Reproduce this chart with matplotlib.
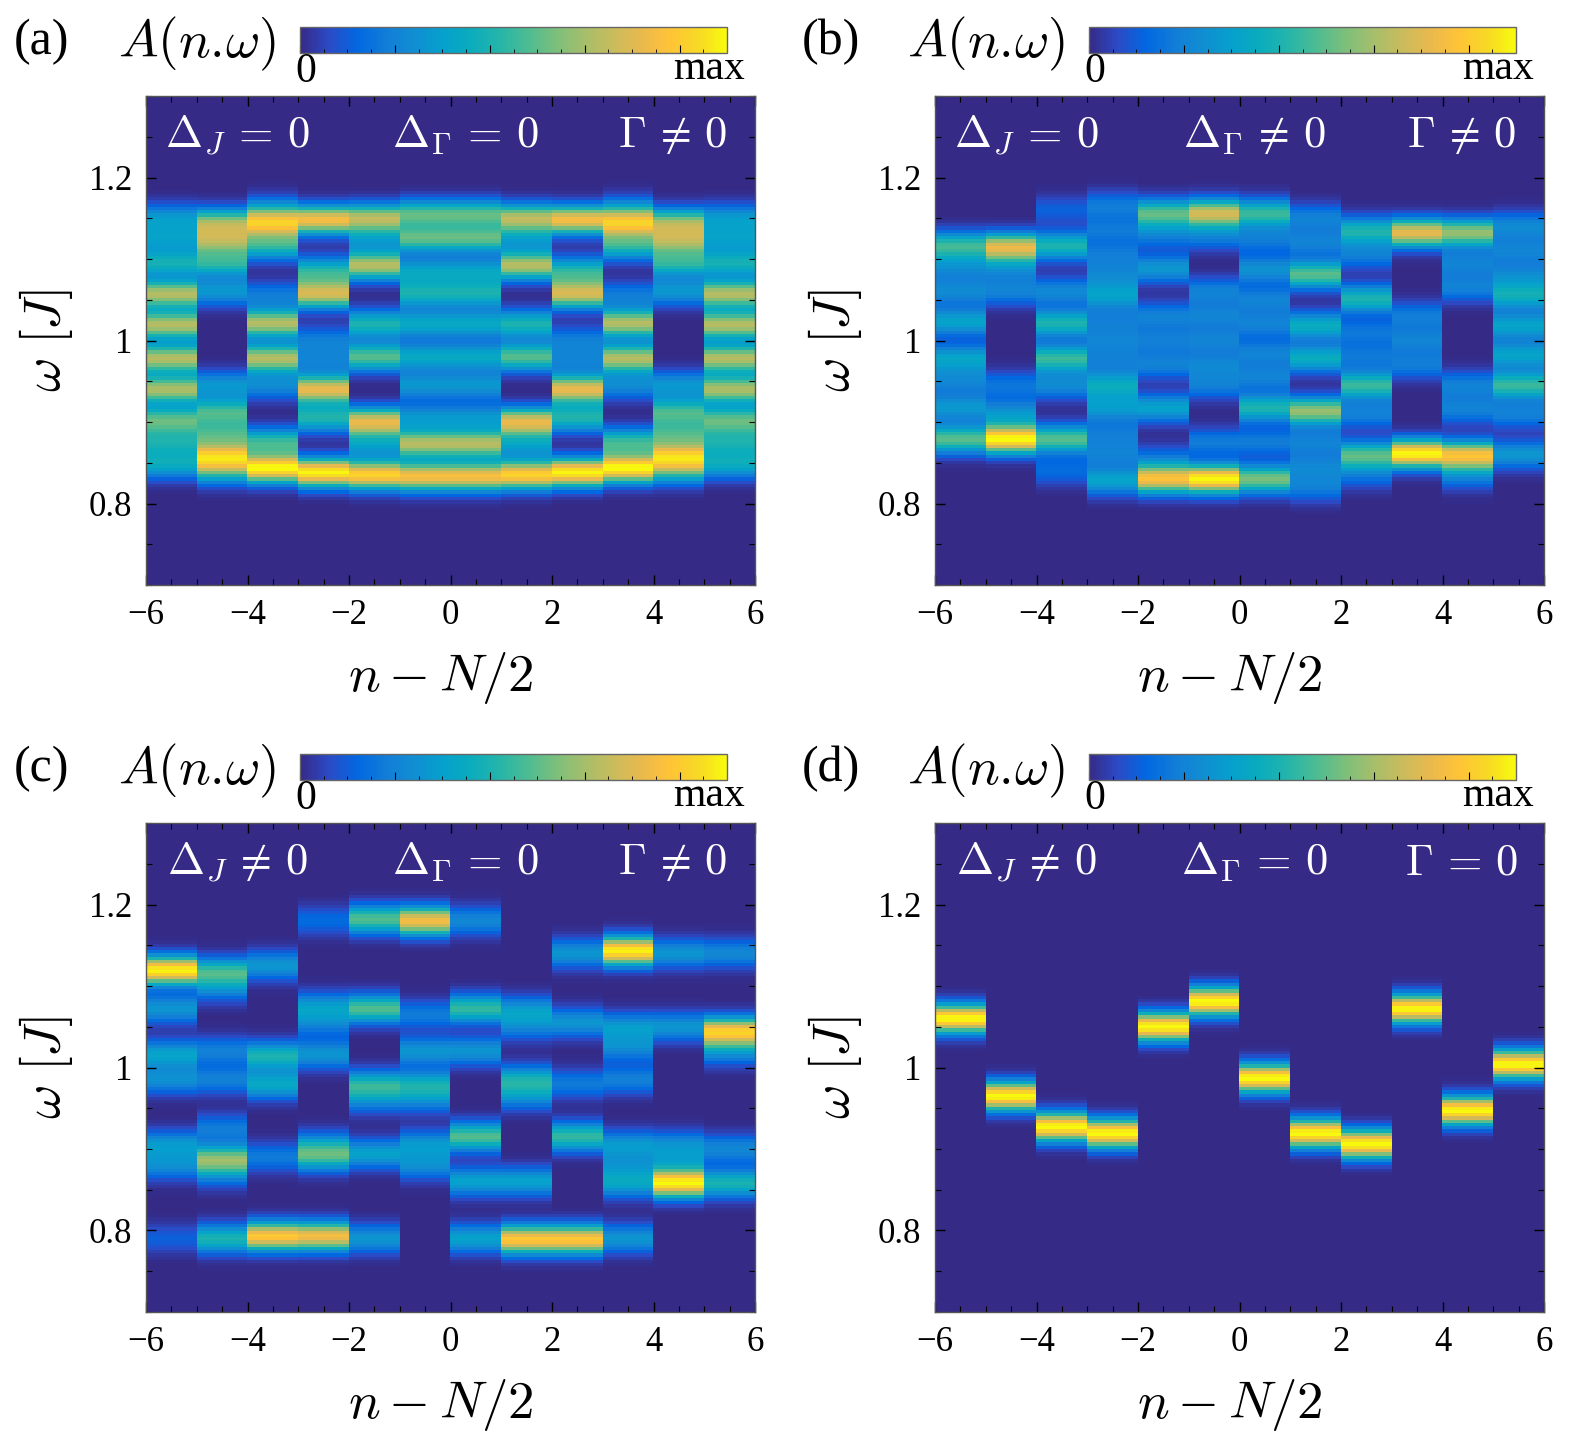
import numpy as np
import matplotlib
matplotlib.use("Agg")
import matplotlib.pyplot as plt
from matplotlib.colors import LinearSegmentedColormap
from matplotlib.ticker import MultipleLocator, FixedLocator, FixedFormatter

plt.rcParams['font.family'] = ['Liberation Serif', 'DejaVu Serif']
plt.rcParams['mathtext.fontset'] = 'cm'

# columns n - N/2, each cell spans one unit
n_edges = [-6, 6]
omega_range = [0.7, 1.3]

# spectral peaks per column: (omega, weight)
peaks_a = [
    [(1.150, 0.3), (1.125, 0.3), (1.095, 0.42), (1.057, 0.7), (1.019, 0.7), (0.978, 0.7), (0.940, 0.68), (0.902, 0.55), (0.875, 0.38), (0.848, 0.38)],
    [(1.145, 0.6), (1.122, 0.6), (1.095, 0.45), (1.060, 0.3), (0.945, 0.3), (0.912, 0.5), (0.885, 0.45), (0.858, 0.8), (0.840, 0.4)],
    [(1.160, 0.25), (1.143, 0.8), (1.116, 0.45), (1.055, 0.2), (1.021, 0.7), (0.978, 0.7), (0.945, 0.25), (0.875, 0.5), (0.843, 1.0)],
    [(1.148, 0.85), (1.085, 0.45), (1.057, 0.75), (1.000, 0.2), (0.975, 0.2), (0.940, 0.8), (0.905, 0.45), (0.838, 1.0)],
    [(1.150, 0.7), (1.125, 0.25), (1.092, 0.7), (1.020, 0.45), (0.980, 0.55), (0.900, 0.8), (0.872, 0.3), (0.835, 0.92)],
    [(1.155, 0.55), (1.125, 0.55), (1.085, 0.35), (1.057, 0.42), (1.020, 0.38), (0.980, 0.38), (0.945, 0.3), (0.905, 0.3), (0.873, 0.7), (0.833, 0.85)],
    [(1.155, 0.55), (1.125, 0.55), (1.085, 0.35), (1.057, 0.42), (1.020, 0.38), (0.980, 0.38), (0.945, 0.3), (0.905, 0.3), (0.873, 0.7), (0.833, 0.85)],
    [(1.150, 0.7), (1.125, 0.25), (1.092, 0.7), (1.020, 0.45), (0.980, 0.55), (0.900, 0.8), (0.872, 0.3), (0.835, 0.92)],
    [(1.148, 0.85), (1.085, 0.45), (1.057, 0.75), (1.000, 0.2), (0.975, 0.2), (0.940, 0.8), (0.905, 0.45), (0.838, 1.0)],
    [(1.160, 0.25), (1.143, 0.8), (1.116, 0.45), (1.055, 0.2), (1.021, 0.7), (0.978, 0.7), (0.945, 0.25), (0.875, 0.5), (0.843, 1.0)],
    [(1.145, 0.6), (1.122, 0.6), (1.095, 0.45), (1.060, 0.3), (0.945, 0.3), (0.912, 0.5), (0.885, 0.45), (0.858, 0.8), (0.840, 0.4)],
    [(1.150, 0.3), (1.125, 0.3), (1.095, 0.42), (1.057, 0.7), (1.019, 0.7), (0.978, 0.7), (0.940, 0.68), (0.902, 0.55), (0.875, 0.38), (0.848, 0.38)],
]

peaks_b = [
    [(1.116, 0.5), (1.090, 0.22), (1.060, 0.25), (1.023, 0.35), (0.978, 0.35), (0.950, 0.22), (0.917, 0.3), (0.879, 0.55)],
    [(1.114, 0.8), (1.088, 0.2), (1.060, 0.22), (0.945, 0.18), (0.910, 0.28), (0.879, 1.0)],
    [(1.160, 0.12), (1.116, 0.45), (1.060, 0.25), (1.021, 0.45), (0.978, 0.5), (0.945, 0.25), (0.879, 0.55), (0.840, 0.15)],
    [(1.165, 0.2), (1.135, 0.18), (1.105, 0.18), (1.080, 0.2), (1.055, 0.32), (1.025, 0.18), (1.000, 0.2), (0.975, 0.18), (0.945, 0.38), (0.917, 0.3), (0.885, 0.18), (0.860, 0.2), (0.828, 0.35)],
    [(1.156, 0.55), (1.130, 0.2), (1.088, 0.3), (1.030, 0.22), (1.000, 0.2), (0.970, 0.22), (0.917, 0.35), (0.855, 0.15), (0.830, 0.85)],
    [(1.156, 0.75), (1.128, 0.2), (1.060, 0.22), (1.030, 0.22), (1.000, 0.22), (0.970, 0.22), (0.945, 0.2), (0.875, 0.2), (0.830, 1.0)],
    [(1.156, 0.5), (1.125, 0.2), (1.087, 0.28), (1.050, 0.22), (1.020, 0.22), (0.985, 0.22), (0.955, 0.22), (0.917, 0.45), (0.875, 0.2), (0.830, 0.6)],
    [(1.150, 0.22), (1.120, 0.22), (1.081, 0.55), (1.018, 0.4), (0.978, 0.4), (0.913, 0.65), (0.875, 0.22), (0.845, 0.22), (0.820, 0.2)],
    [(1.134, 0.45), (1.105, 0.2), (1.051, 0.45), (1.010, 0.18), (0.980, 0.18), (0.945, 0.5), (0.910, 0.22), (0.859, 0.55), (0.835, 0.15)],
    [(1.132, 0.8), (1.030, 0.2), (1.000, 0.22), (0.970, 0.2), (0.861, 1.0)],
    [(1.132, 0.65), (1.095, 0.22), (1.065, 0.22), (0.945, 0.22), (0.915, 0.22), (0.859, 0.85), (0.835, 0.2)],
    [(1.140, 0.25), (1.110, 0.22), (1.080, 0.22), (1.055, 0.4), (1.018, 0.35), (0.982, 0.35), (0.945, 0.5), (0.910, 0.22), (0.860, 0.3)],
]

peaks_c = [
    [(1.119, 1.0), (1.072, 0.3), (1.016, 0.35), (0.985, 0.27), (0.905, 0.3), (0.880, 0.25), (0.790, 0.12)],
    [(1.117, 0.5), (1.097, 0.2), (1.020, 0.22), (0.985, 0.22), (0.925, 0.2), (0.888, 0.6), (0.870, 0.2), (0.790, 0.45)],
    [(1.125, 0.3), (1.014, 0.45), (0.979, 0.38), (0.890, 0.2), (0.793, 0.9)],
    [(1.180, 0.15), (1.075, 0.3), (1.055, 0.2), (1.016, 0.3), (0.905, 0.25), (0.890, 0.45), (0.793, 0.85)],
    [(1.182, 0.55), (1.072, 0.55), (0.979, 0.45), (0.960, 0.2), (0.894, 0.35), (0.790, 0.3)],
    [(1.180, 0.85), (1.065, 0.2), (1.020, 0.3), (0.979, 0.4), (0.960, 0.2), (0.905, 0.3), (0.880, 0.25)],
    [(1.180, 0.25), (1.072, 0.5), (1.020, 0.3), (0.915, 0.55), (0.860, 0.35), (0.790, 0.35)],
    [(1.070, 0.3), (1.050, 0.2), (0.985, 0.4), (0.965, 0.25), (0.860, 0.35), (0.789, 0.9)],
    [(1.140, 0.3), (1.055, 0.3), (0.980, 0.2), (0.915, 0.5), (0.789, 0.9)],
    [(1.143, 1.0), (1.050, 0.3), (1.025, 0.25), (0.985, 0.22), (0.905, 0.3), (0.880, 0.2), (0.858, 0.35), (0.790, 0.3)],
    [(1.140, 0.3), (1.050, 0.3), (0.905, 0.25), (0.885, 0.2), (0.858, 1.0)],
    [(1.140, 0.25), (1.044, 0.9), (1.020, 0.25), (0.900, 0.25), (0.858, 0.45)],
]

peaks_d = [
    [(1.060, 1.0)], [(0.965, 1.0)], [(0.927, 1.0)], [(0.919, 1.0)],
    [(1.050, 1.0)], [(1.081, 1.0)], [(0.987, 1.0)], [(0.919, 1.0)],
    [(0.906, 1.0)], [(1.072, 1.0)], [(0.947, 1.0)], [(1.004, 1.0)],
]

panel_tags = ['(a)', '(b)', '(c)', '(d)']
panel_notes = [
    [r'$\Delta_J\,=\,0$', r'$\Delta_\Gamma\,=\,0$', r'$\Gamma\,\neq\,0$'],
    [r'$\Delta_J\,=\,0$', r'$\Delta_\Gamma\,\neq\,0$', r'$\Gamma\,\neq\,0$'],
    [r'$\Delta_J\,\neq\,0$', r'$\Delta_\Gamma\,=\,0$', r'$\Gamma\,\neq\,0$'],
    [r'$\Delta_J\,\neq\,0$', r'$\Delta_\Gamma\,=\,0$', r'$\Gamma\,=\,0$'],
]
note_x = [0.15, 0.525, 0.865]

# parula (MATLAB) key colours
parula_pts = [
    (0.2081, 0.1663, 0.5292), (0.1707, 0.2919, 0.7792), (0.0060, 0.4086, 0.8828),
    (0.0723, 0.4887, 0.8467), (0.0641, 0.5570, 0.8240), (0.0239, 0.6287, 0.8038),
    (0.0384, 0.6743, 0.7436), (0.1453, 0.7098, 0.6646), (0.3022, 0.7376, 0.5712),
    (0.4871, 0.7491, 0.4840), (0.6473, 0.7456, 0.4188), (0.7858, 0.7356, 0.3633),
    (0.9139, 0.7258, 0.3063), (0.9990, 0.7653, 0.2164), (0.9697, 0.8481, 0.1475),
    (0.9763, 0.9831, 0.0538),
]
parula = LinearSegmentedColormap.from_list('parula', parula_pts)

W, H = 1578, 1439
fig = plt.figure(figsize=(W / 100, H / 100), dpi=100)


def px_axes(l, t, r, b):
    return fig.add_axes([l / W, 1 - b / H, (r - l) / W, (b - t) / H])


omega = np.arange(0.702, 1.3, 0.004)
sigma = 0.012


def spectrum(peaks):
    img = np.zeros((len(omega), len(peaks)))
    for j, col in enumerate(peaks):
        for w0, amp in col:
            img[:, j] += amp * np.exp(-0.5 * ((omega - w0) / sigma) ** 2)
    return img / img.max()


all_peaks = [peaks_a, peaks_b, peaks_c, peaks_d]
lefts = [146, 935, 146, 935]
tops = [96, 96, 823, 823]
ax_w, ax_h = 609, 489

for k in range(4):
    l, t = lefts[k], tops[k]
    ax = px_axes(l, t, l + ax_w, t + ax_h)
    A = spectrum(all_peaks[k])
    ax.imshow(A, extent=[n_edges[0], n_edges[1], omega_range[0], omega_range[1]],
              origin='lower', aspect='auto', cmap=parula, vmin=0, vmax=1,
              interpolation='nearest')
    ax.set_xlim(n_edges)
    ax.set_ylim(omega_range)
    ax.xaxis.set_major_locator(MultipleLocator(2))
    ax.xaxis.set_minor_locator(MultipleLocator(0.5))
    ax.yaxis.set_major_locator(FixedLocator([0.8, 1.0, 1.2]))
    ax.yaxis.set_major_formatter(FixedFormatter(['0.8', '1', '1.2']))
    ax.yaxis.set_minor_locator(MultipleLocator(0.05))
    ax.tick_params(which='both', direction='in', top=True, right=True,
                   labelsize=25, color='black')
    ax.tick_params(which='major', length=7, width=1, pad=10)
    ax.tick_params(which='minor', length=4, width=0.8)
    for s in ax.spines.values():
        s.set_color('#555555')
        s.set_linewidth(1)
    for xt, txt in zip(note_x, panel_notes[k]):
        ax.text(xt, 0.895, txt, transform=ax.transAxes, ha='center',
                va='baseline', color='white', fontsize=32)

    # axis labels
    fig.text((l + ax_w / 2 - 10) / W, 1 - (t + 582) / H, r'$n-N/2$', ha='center',
             va='center', fontsize=38)
    fig.text((l - 100) / W, 1 - (t + ax_h / 2) / H, r'$\omega\ [J]$', ha='center',
             va='center', fontsize=38, rotation=90)

    # colour bar above the panel
    cl = l + 154
    cax = px_axes(cl, t - 69, cl + 427, t - 43)
    sm = plt.cm.ScalarMappable(cmap=parula, norm=plt.Normalize(0, 4.5))
    cb = fig.colorbar(sm, cax=cax, orientation='horizontal')
    cb.outline.set_edgecolor('#666666')
    cb.outline.set_linewidth(1)
    cax.xaxis.set_major_locator(MultipleLocator(1))
    cax.xaxis.set_minor_locator(MultipleLocator(0.25))
    cax.tick_params(which='both', direction='in', bottom=True, top=False,
                    labelbottom=False, color='black')
    cax.tick_params(which='major', length=6, width=0.8)
    cax.tick_params(which='minor', length=3, width=0.6)
    fig.text((cl + 6) / W, 1 - (t - 24) / H, '0', ha='center', va='center', fontsize=30)
    fig.text((cl + 445) / W, 1 - (t - 27) / H, 'max', ha='right', va='center', fontsize=30)
    fig.text((cl - 103) / W, 1 - (t - 52) / H, r'$A(n.\!\omega)$', ha='center',
             va='center', fontsize=38)
    fig.text((cl - 258) / W, 1 - (t - 54) / H, panel_tags[k], ha='center',
             va='center', fontsize=36)

fig.savefig('out.png', dpi=100)
